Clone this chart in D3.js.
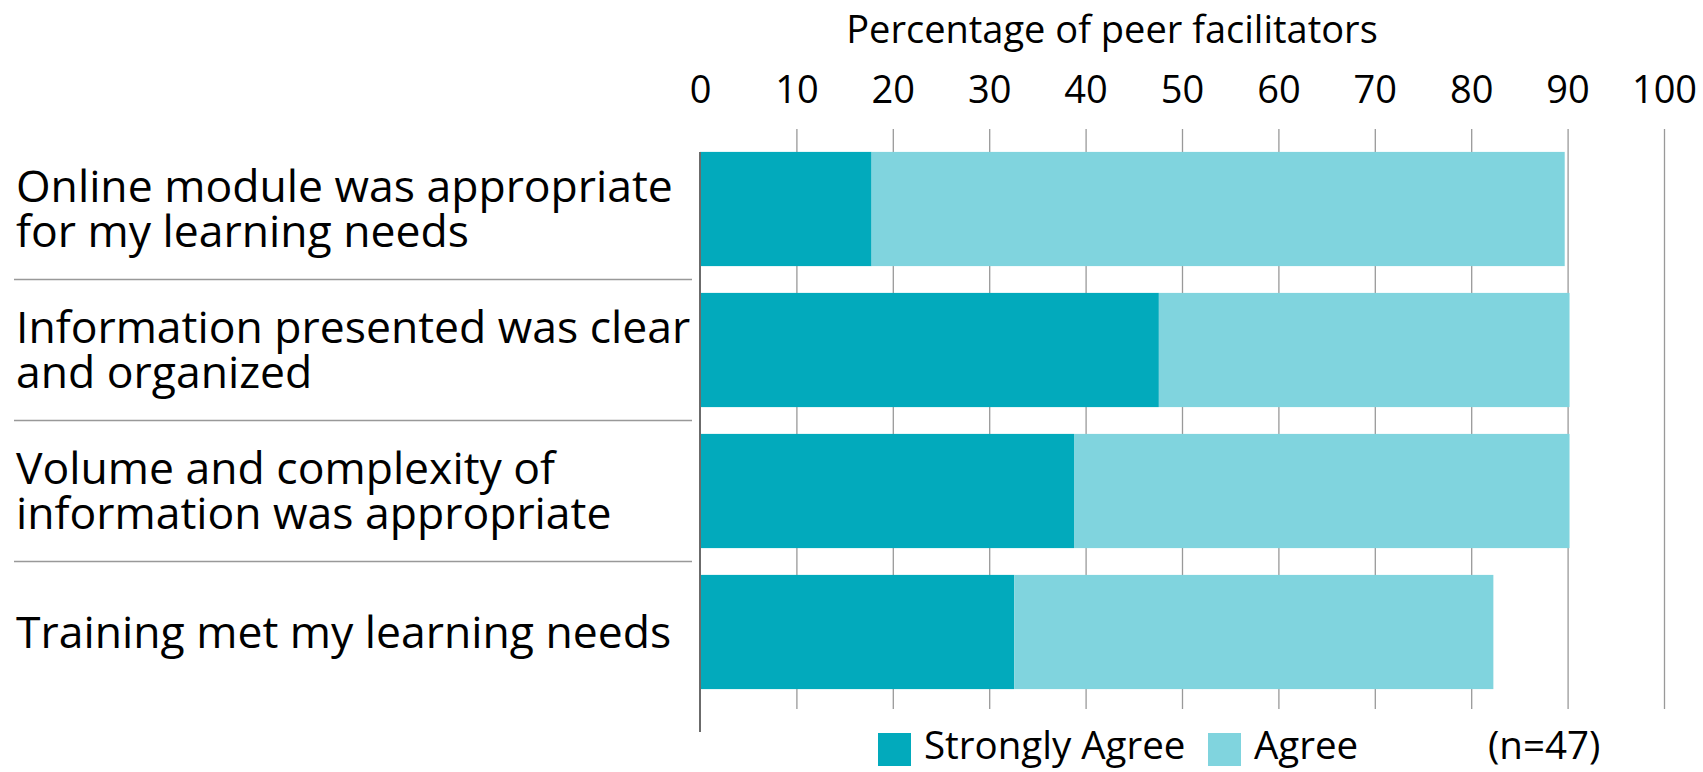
<!DOCTYPE html>
<html>
<head>
<meta charset="utf-8">
<script src="https://cdn.jsdelivr.net/npm/d3@7"></script>
<style>
  html, body { margin: 0; padding: 0; background: #fff; }
  svg text { font-family: "Open Sans", "Noto Sans", sans-serif; fill: #000; }
</style>
</head>
<body>
<div id="chart"></div>
<script>
// Stacked horizontal bars: peer facilitator feedback on training
const categories = [
  ['Online module was appropriate', 'for my learning needs'],
  ['Information presented was clear', 'and organized'],
  ['Volume and complexity of', 'information was appropriate'],
  ['Training met my learning needs']
];
const stronglyAgree = [17.8, 47.6, 38.8, 32.6];
const agree = [71.9, 42.6, 51.4, 49.7];
const seriesNames = ['Strongly Agree', 'Agree'];
const tickValues = [0, 10, 20, 30, 40, 50, 60, 70, 80, 90, 100];
const axisTitle = 'Percentage of peer facilitators';
const sampleNote = '(n=47)';

(function(){
  const W = 1703, H = 772;
  const colors = ['#02aabc', '#80d4de'];
  const fs = 38, labFs = 44.5, legFs = 38.5;

  const svg = d3.select('#chart').append('svg').attr('width', W).attr('height', H);

  const x = d3.scaleLinear().domain([0, 100]).range([700, 1664]);
  const keys = categories.map((c, i) => i);
  const y = d3.scaleBand().domain(keys).range([138.5, 702.5]).paddingInner(0.19).paddingOuter(0.095);

  const rows = keys.map(i => ({i, sa: stronglyAgree[i], ag: agree[i]}));

  // gridlines (behind bars)
  svg.append('g')
    .attr('transform', 'translate(0,129)')
    .call(d3.axisBottom(x).tickValues(tickValues.filter(t => t > 0)).tickSize(580).tickFormat(''))
    .call(g => g.select('.domain').remove())
    .call(g => g.selectAll('line').attr('stroke', '#999').attr('stroke-width', 1.3));

  // bars
  const bar = svg.append('g');
  bar.selectAll('rect.sa').data(rows).enter().append('rect')
    .attr('x', x(0))
    .attr('y', d => y(d.i))
    .attr('width', d => x(d.sa) - x(0))
    .attr('height', y.bandwidth())
    .attr('fill', colors[0]);
  bar.selectAll('rect.ag').data(rows).enter().append('rect')
    .attr('x', d => x(d.sa))
    .attr('y', d => y(d.i))
    .attr('width', d => x(d.sa + d.ag) - x(d.sa))
    .attr('height', y.bandwidth())
    .attr('fill', colors[1]);

  // zero axis line
  svg.append('line')
    .attr('x1', x(0)).attr('x2', x(0))
    .attr('y1', y(0)).attr('y2', 732)
    .attr('stroke', '#6b6b6b').attr('stroke-width', 2);

  // tick labels on top
  svg.append('g')
    .attr('transform', 'translate(0,103)')
    .call(d3.axisTop(x).tickValues(tickValues).tickSize(0).tickPadding(0))
    .call(g => g.select('.domain').remove())
    .call(g => g.selectAll('text').attr('font-size', fs).attr('font-family', null).attr('fill', '#000'));

  svg.append('text')
    .attr('x', 1112).attr('y', 43)
    .attr('text-anchor', 'middle')
    .attr('font-size', fs)
    .text(axisTitle);

  // category labels + separators
  const step = y.step();
  const lh = 45;
  const cap = labFs * 0.714;
  const lab = svg.append('g');
  rows.forEach(d => {
    const lines = categories[d.i];
    const cy = y(d.i) + y.bandwidth() / 2;
    const first = cy + (cap - (lines.length - 1) * lh) / 2;
    const t = lab.append('text').attr('x', 16).attr('font-size', labFs);
    lines.forEach((ln, k) => {
      t.append('tspan').attr('x', 16).attr('y', first + k * lh).text(ln);
    });
    if (d.i < rows.length - 1) {
      const sy = y(d.i) + y.bandwidth() + (step - y.bandwidth()) / 2;
      lab.append('line')
        .attr('x1', 14).attr('x2', 692)
        .attr('y1', sy).attr('y2', sy)
        .attr('stroke', '#999').attr('stroke-width', 1.5);
    }
  });

  // legend
  const leg = svg.append('g');
  const legX = [878, 1208];
  seriesNames.forEach((name, k) => {
    leg.append('rect').attr('x', legX[k]).attr('y', 733).attr('width', 33).attr('height', 33).attr('fill', colors[k]);
    leg.append('text').attr('x', legX[k] + 46).attr('y', 759).attr('font-size', legFs).text(name);
  });
  leg.append('text').attr('x', 1488).attr('y', 759).attr('font-size', legFs).text(sampleNote);
})();
</script>
</body>
</html>
